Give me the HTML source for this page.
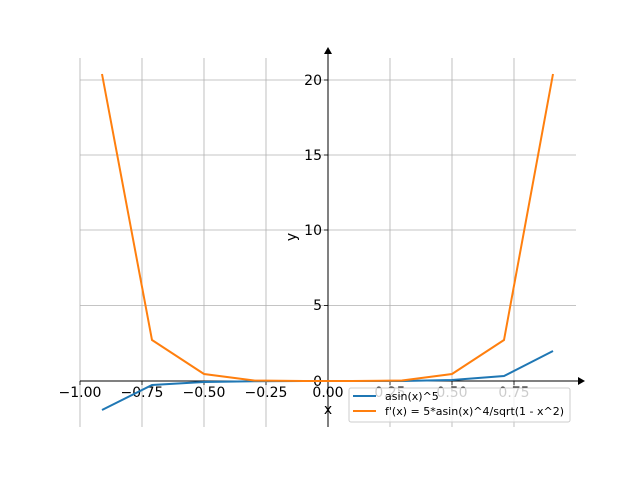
<!DOCTYPE html>
<html><head><style>body{margin:0;background:#fff}</style></head><body>
<svg width="640" height="480" xmlns="http://www.w3.org/2000/svg" font-family="DejaVu Sans, Liberation Sans, sans-serif" font-size="14">
<rect width="640" height="480" fill="#fff"/>
<g stroke="#b0b0b0" stroke-width="0.8">
<line x1="80" y1="58" x2="80" y2="427"/><line x1="142" y1="58" x2="142" y2="427"/><line x1="204" y1="58" x2="204" y2="427"/><line x1="266" y1="58" x2="266" y2="427"/><line x1="390" y1="58" x2="390" y2="427"/><line x1="452" y1="58" x2="452" y2="427"/><line x1="514" y1="58" x2="514" y2="427"/>
<line x1="80" y1="80" x2="576" y2="80"/><line x1="80" y1="155" x2="576" y2="155"/><line x1="80" y1="230" x2="576" y2="230"/><line x1="80" y1="305.5" x2="576" y2="305.5"/>
</g>
<g stroke="#000" stroke-width="1">
<line x1="80" y1="381" x2="583" y2="381"/><line x1="328" y1="427" x2="328" y2="50"/>
<g stroke-width="0.8"><line x1="80" y1="381" x2="80" y2="385"/><line x1="142" y1="381" x2="142" y2="385"/><line x1="204" y1="381" x2="204" y2="385"/><line x1="266" y1="381" x2="266" y2="385"/><line x1="328" y1="381" x2="328" y2="385"/><line x1="390" y1="381" x2="390" y2="385"/><line x1="452" y1="381" x2="452" y2="385"/><line x1="514" y1="381" x2="514" y2="385"/>
<line x1="324" y1="80" x2="328" y2="80"/><line x1="324" y1="155" x2="328" y2="155"/><line x1="324" y1="230" x2="328" y2="230"/><line x1="324" y1="305.5" x2="328" y2="305.5"/><line x1="324" y1="381" x2="328" y2="381"/></g>
</g>
<path d="M578,377 L585,381 L578,385 Z M324,54 L328,47 L332,54 Z" fill="#000"/>
<g text-anchor="middle" fill="#000">
<text x="80" y="397">−1.00</text><text x="142" y="397">−0.75</text><text x="204" y="397">−0.50</text><text x="266" y="397">−0.25</text><text x="328" y="397">0.00</text><text x="390" y="397">0.25</text><text x="452" y="397">0.50</text><text x="514" y="397">0.75</text>
<text x="328" y="414">x</text>
<text transform="translate(296,237) rotate(-90)">y</text>
</g>
<g text-anchor="end"><text x="322" y="85">20</text><text x="322" y="160">15</text><text x="322" y="235">10</text><text x="322" y="310">5</text><text x="322" y="386">0</text></g>
<polyline fill="none" stroke="#1f77b4" stroke-width="2" points="102,410 152,385 204,382 254,381.3 304,381 352,381 402,381 452,380 504,376 553,351"/>
<polyline fill="none" stroke="#ff7f0e" stroke-width="2" points="102,74 152,340 204,374 254,380.5 304,381 352,381 402,380.5 452,374 504,340 553,74"/>
<rect x="349" y="388" width="221" height="34" rx="2" fill="#fff" fill-opacity="0.8" stroke="#ccc"/>
<line x1="353" y1="396" x2="376" y2="396" stroke="#1f77b4" stroke-width="2"/>
<line x1="353" y1="411" x2="376" y2="411" stroke="#ff7f0e" stroke-width="2"/>
<text x="385" y="400" font-size="11">asin(x)^5</text>
<text x="385" y="415" font-size="11">f'(x) = 5*asin(x)^4/sqrt(1 - x^2)</text>
</svg>
</body></html>
